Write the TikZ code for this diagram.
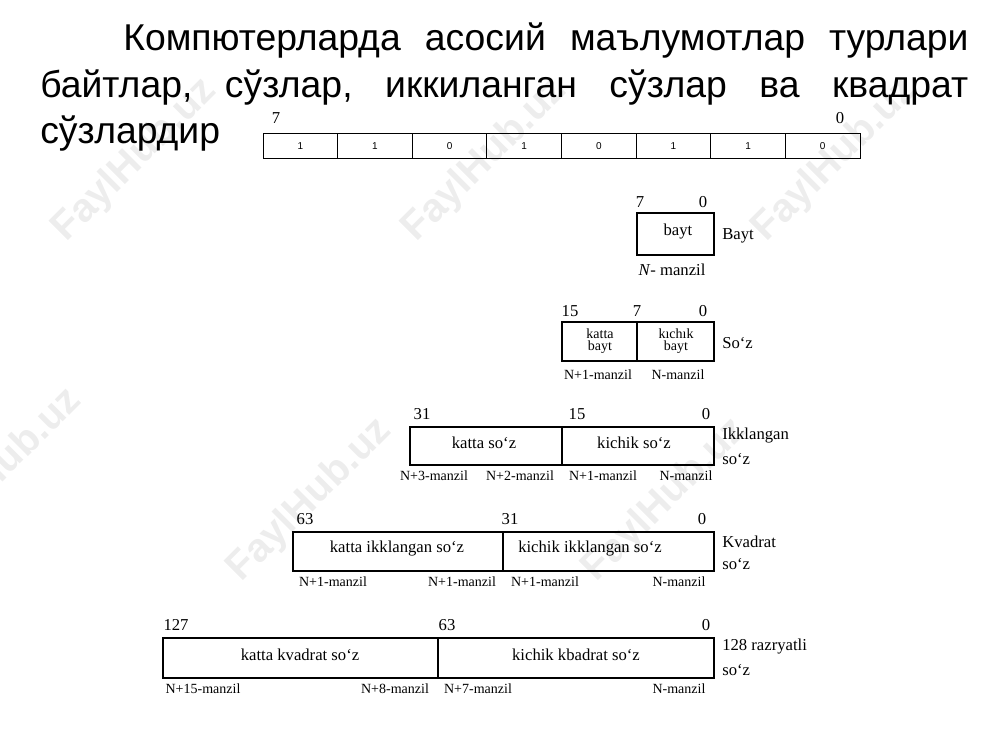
\documentclass[tikz,border=0pt]{standalone}
\usepackage{fontspec}
\setmainfont{Liberation Serif}
\newfontfamily\ttl{Liberation Sans}
\begin{document}
\begin{tikzpicture}[x=0.75pt,y=-0.75pt,
  box/.style={draw,line width=1.4pt},
  lab/.style={inner sep=0pt,font=\fontsize{12.5}{12.5}\selectfont},
  sm/.style={inner sep=0pt,font=\fontsize{10.5}{10.5}\selectfont},
  wm/.style={inner sep=0pt,rotate=45,text=black!7,font=\ttl\bfseries\fontsize{30}{30}\selectfont}]
\useasboundingbox (0,0) rectangle (1000,750);
% watermarks
\node[wm] (w1) at (135,160) {FaylHub.uz};
\node[wm] (w2) at (485,160) {FaylHub.uz};
\node[wm] (w3) at (835,160) {FaylHub.uz};
\node[wm] (w4) at (310,500) {FaylHub.uz};
\node[wm] (w5) at (665,500) {FaylHub.uz};
\node[wm] (w6) at (0,470) {FaylHub.uz};
% title
\node[anchor=base west,inner sep=0pt,font=\ttl\fontsize{28}{28}\selectfont] (t1) at (123,50) {\hbox to 634pt{Компютерларда\hfill асосий\hfill маълумотлар\hfill турлари}};
\node[anchor=base west,inner sep=0pt,font=\ttl\fontsize{28}{28}\selectfont] (t2) at (40,97) {\hbox to 696pt{байтлар,\hfill сўзлар,\hfill иккиланган\hfill сўзлар\hfill ва\hfill квадрат}};
\node[anchor=base west,inner sep=0pt,font=\ttl\fontsize{28}{28}\selectfont] (t3) at (40,143) {сўзлардир};
% bits
\foreach \b [count=\i from 0] in {1,1,0,1,0,1,1,0}{
  \draw[line width=0.6pt] ({263+\i*74.625},133) rectangle ({263+(\i+1)*74.625},158);
  \node[inner sep=0pt,font=\ttl\fontsize{7.5}{7.5}\selectfont] (bit\i) at ({263+(\i+0.5)*74.625},146) {\b};
}
\node[lab] (b7) at (276,118) {7};
\node[lab] (b0) at (840,118) {0};
% Bayt
\draw[box] (637,213) rectangle (714,255);
\node[lab] (r1a) at (640,202) {7};
\node[lab] (r1b) at (703,202) {0};
\node[lab] (r1c) at (678,232) {bayt};
\node[lab,anchor=west] (r1d) at (722,236) {Bayt};
\node[lab] (r1e) at (672,270) {\textit{N}- manzil};
% So'z
\draw[box] (562,322) rectangle (714,361); \draw[box] (637,322) -- (637,361);
\node[lab] at (570,311) {15}; \node[lab] at (637,311) {7}; \node[lab] at (703,311) {0};
\node[sm,align=center] (k1) at (600,341) {katta\\[-2pt]bayt};
\node[sm,align=center] (k2) at (676,341) {kıchık\\[-2pt]bayt};
\node[lab,anchor=west] at (722,343) {Soʻz};
\node[sm] at (598,375) {N+1-manzil}; \node[sm] at (678,375) {N-manzil};
% Ikklangan
\draw[box] (410,427) rectangle (714,465); \draw[box] (562,427) -- (562,465);
\node[lab] at (422,414) {31}; \node[lab] at (577,414) {15}; \node[lab] at (706,414) {0};
\node[lab] at (484,443) {katta soʻz}; \node[lab] at (634,443) {kichik soʻz};
\node[lab,anchor=west] at (722,436) {Ikklangan}; \node[lab,anchor=west] at (722,459) {soʻz};
\node[sm] at (434,476) {N+3-manzil}; \node[sm] at (520,476) {N+2-manzil};
\node[sm] at (603,476) {N+1-manzil}; \node[sm] at (686,476) {N-manzil};
% Kvadrat
\draw[box] (293,532) rectangle (714,571); \draw[box] (503,532) -- (503,571);
\node[lab] at (305,519) {63}; \node[lab] at (510,519) {31}; \node[lab] at (702,519) {0};
\node[lab] at (397,549) {katta ikklangan soʻz}; \node[lab] at (590,549) {kichik ikklangan soʻz};
\node[lab,anchor=west] at (722,542) {Kvadrat}; \node[lab,anchor=west] at (722,564) {soʻz};
\node[sm] at (333,582) {N+1-manzil}; \node[sm] at (462,582) {N+1-manzil};
\node[sm] at (545,582) {N+1-manzil}; \node[sm] at (679,582) {N-manzil};
% 128
\draw[box] (163,638) rectangle (714,678); \draw[box] (438,638) -- (438,678);
\node[lab] at (176,625) {127}; \node[lab] at (447,625) {63}; \node[lab] at (706,625) {0};
\node[lab] at (300,655) {katta kvadrat soʻz}; \node[lab] at (576,655) {kichik kbadrat soʻz};
\node[lab,anchor=west] at (722,647) {128 razryatli}; \node[lab,anchor=west] at (722,670) {soʻz};
\node[sm] at (203,689) {N+15-manzil}; \node[sm] at (395,689) {N+8-manzil};
\node[sm] at (478,689) {N+7-manzil}; \node[sm] at (679,689) {N-manzil};
\end{tikzpicture}
\end{document}
